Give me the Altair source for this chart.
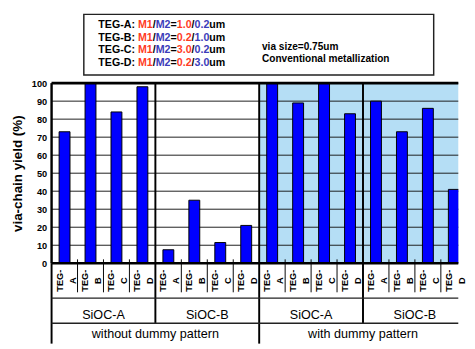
import altair as alt
import pandas as pd

# ---------------- data ----------------
teg = ["A", "B", "C", "D"]
materials = ["SiOC-A", "SiOC-B", "SiOC-A", "SiOC-B"]
conditions = ["without dummy pattern", "with dummy pattern"]
yield_without_sioc_a = [73, 100, 84, 98]
yield_without_sioc_b = [7.5, 35, 11.5, 21]
yield_with_sioc_a = [100, 89, 100, 83]
yield_with_sioc_b = [90, 73, 86, 41]
y_ticks = [0, 10, 20, 30, 40, 50, 60, 70, 80, 90, 100]
m1_widths = ["1.0", "0.2", "3.0", "0.2"]
m2_widths = ["0.2", "1.0", "0.2", "3.0"]
note_lines = ["via size=0.75um", "Conventional metallization"]

groups = [yield_without_sioc_a, yield_without_sioc_b, yield_with_sioc_a, yield_with_sioc_b]

# ---------------- layout / style ----------------
FONT = "Liberation Sans"
W = 420
SLOT = 26.8
XMAX = W / SLOT
H_HEAD, H_PLOT, H_TAB = 72, 186, 83
ROW1, ROW2 = 36, 62
BAR_L, BAR_R = 0.29, 0.71
RED, BLUE, BLACK = "#ff3b1f", "#3c3cba", "#000000"

BOLD_W = {' ': 278, '-': 333, '.': 278, '/': 278, ':': 333, '=': 584,
          'A': 722, 'B': 722, 'C': 722, 'D': 722, 'E': 667, 'G': 778,
          'M': 833, 'T': 611, 'u': 611, 'm': 889}
for d in "0123456789":
    BOLD_W[d] = 556


def text_w(s, size):
    return sum(BOLD_W.get(c, 556) for c in s) * size / 1000.0


# ---------------- header (legend box) ----------------
LEG_SIZE = 11
leg_x0, leg_baselines = 48.3, [14.7, 28.2, 41.3, 54.7]
segs = []
for i, t in enumerate(teg):
    parts = [(f"TEG-{t}: ", BLACK), ("M1", RED), ("/", BLACK), ("M2", BLUE),
             ("=", BLACK), (m1_widths[i], RED), ("/", BLACK), (m2_widths[i], BLUE),
             ("um", BLACK)]
    x = leg_x0
    for s, c in parts:
        segs.append({"x": x, "y": leg_baselines[i], "t": s, "c": c})
        x += text_w(s, LEG_SIZE)
segs_df = pd.DataFrame(segs)
notes_df = pd.DataFrame({"x": [217.3, 217.3], "y": [37.8, 50.0], "t": note_lines})
box_df = pd.DataFrame({"x0": [33.3], "x1": [394.6], "y0": [1.0], "y1": [63.7]})

hx = alt.Scale(domain=[0, W], nice=False, zero=False)
hy = alt.Scale(domain=[0, H_HEAD], reverse=True, nice=False, zero=False)

box = alt.Chart(box_df).mark_rect(fill="white", stroke="#222", strokeWidth=1.5).encode(
    x=alt.X("x0:Q", scale=hx, axis=None), x2="x1",
    y=alt.Y("y0:Q", scale=hy, axis=None), y2="y1")
leg_text = alt.Chart(segs_df).mark_text(
    align="left", baseline="alphabetic", font=FONT, fontSize=LEG_SIZE, fontWeight="bold"
).encode(x=alt.X("x:Q", scale=hx, axis=None), y=alt.Y("y:Q", scale=hy, axis=None),
         text="t:N", color=alt.Color("c:N", scale=None))
note_text = alt.Chart(notes_df).mark_text(
    align="left", baseline="alphabetic", font=FONT, fontSize=10.4, fontWeight="bold", color="black"
).encode(x=alt.X("x:Q", scale=hx, axis=None), y=alt.Y("y:Q", scale=hy, axis=None), text="t:N")
head = alt.layer(box, leg_text, note_text).properties(width=W, height=H_HEAD)

# ---------------- main bar plot ----------------
xs = alt.Scale(domain=[0, XMAX], nice=False, zero=False)
ys = alt.Scale(domain=[0, 100], nice=False, zero=False)
yax = alt.Axis(values=y_ticks, grid=False, ticks=False, domain=False,
               labelFont=FONT, labelFontSize=9.5, labelFontWeight="bold", labelColor="black",
               labelPadding=5, title="via-chain yield (%)", titleFont=FONT, titleFontSize=13.8,
               titleFontWeight="bold", titleColor="black", titleAngle=270, titleX=-35,
               titleY=H_PLOT / 2, titleAlign="center", titleBaseline="middle")

rows = []
for g, vals in enumerate(groups):
    for i, v in enumerate(vals):
        slot = g * 4 + i
        rows.append({"x0": slot + BAR_L, "x1": slot + BAR_R, "value": v, "zero": 0})
bars_df = pd.DataFrame(rows)

bg_df = pd.DataFrame({"x0": [8], "x1": [16], "y0": [0], "y1": [100]})
grid_df = pd.DataFrame({"v": y_ticks, "x0": 0, "x1": XMAX})
sep_df = pd.DataFrame({"x": [4, 8, 12], "y0": 0, "y1": 100})
slot_bounds = [s for s in range(1, 16) if s % 4 != 0]
tick_df = pd.DataFrame({"x": slot_bounds})
top_df = pd.DataFrame({"v": [100], "x0": 0, "x1": XMAX})
bot_df = pd.DataFrame({"v": [0], "x0": 0, "x1": XMAX})
left_df = pd.DataFrame({"x": [0], "y0": 0, "y1": 100})

bg = alt.Chart(bg_df).mark_rect(fill="#b5def5", clip=True).encode(
    x=alt.X("x0:Q", scale=xs, axis=None), x2="x1",
    y=alt.Y("y0:Q", scale=ys, axis=yax), y2="y1")
grid = alt.Chart(grid_df).mark_rule(color="#1a1a1a", strokeWidth=1).encode(
    x=alt.X("x0:Q", scale=xs, axis=None), x2="x1",
    y=alt.Y("v:Q", scale=ys, axis=yax))
seps = alt.Chart(sep_df).mark_rule(color="black", strokeWidth=2).encode(
    x=alt.X("x:Q", scale=xs, axis=None),
    y=alt.Y("y0:Q", scale=ys, axis=yax), y2="y1")
bars = alt.Chart(bars_df).mark_rect(fill="#0000ff", stroke="black", strokeWidth=1, clip=True).encode(
    x=alt.X("x0:Q", scale=xs, axis=None), x2="x1",
    y=alt.Y("value:Q", scale=ys, axis=yax), y2="zero")
ticks = alt.Chart(tick_df).mark_rule(color="black", strokeWidth=1).encode(
    x=alt.X("x:Q", scale=xs, axis=None), y=alt.value(H_PLOT - 4), y2=alt.value(H_PLOT))
top = alt.Chart(top_df).mark_rule(color="black", strokeWidth=3).encode(
    x=alt.X("x0:Q", scale=xs, axis=None), x2="x1", y=alt.Y("v:Q", scale=ys, axis=yax))
bot = alt.Chart(bot_df).mark_rule(color="black", strokeWidth=2.5).encode(
    x=alt.X("x0:Q", scale=xs, axis=None), x2="x1", y=alt.Y("v:Q", scale=ys, axis=yax))
left = alt.Chart(left_df).mark_rule(color="black", strokeWidth=2.5).encode(
    x=alt.X("x:Q", scale=xs, axis=None), y=alt.Y("y0:Q", scale=ys, axis=yax), y2="y1")

main = alt.layer(bg, grid, seps, bars, ticks, top, bot, left).properties(width=W, height=H_PLOT)

# ---------------- category table ----------------
ty = alt.Scale(domain=[0, H_TAB], reverse=True, nice=False, zero=False)

thin_df = pd.DataFrame({"x": slot_bounds, "y0": 0, "y1": ROW1 - 6})
gsep_df = pd.DataFrame({"x": [4, 12], "y0": 0, "y1": ROW2})
full_df = pd.DataFrame({"x": [0, 8], "y0": 0, "y1": H_TAB})
hline_df = pd.DataFrame({"y": [ROW1, ROW2], "x0": 0, "x1": XMAX})
teg_pre_df = pd.DataFrame({"x": [g * 4 + i + 0.31 for g in range(4) for i in range(4)],
                           "y": 18, "t": "TEG-"})
teg_let_df = pd.DataFrame({"x": [g * 4 + i + 0.81 for g in range(4) for i in range(4)],
                           "y": 18, "t": [t for g in range(4) for t in teg]})
mat_df = pd.DataFrame({"x": [g * 4 + 2 for g in range(4)], "y": 58, "t": materials})
cond_df = pd.DataFrame({"x": [4, 12], "y": 77.5, "t": conditions})

thin = alt.Chart(thin_df).mark_rule(color="black", strokeWidth=1).encode(
    x=alt.X("x:Q", scale=xs, axis=None), y=alt.Y("y0:Q", scale=ty, axis=None), y2="y1")
gsep = alt.Chart(gsep_df).mark_rule(color="black", strokeWidth=2).encode(
    x=alt.X("x:Q", scale=xs, axis=None), y=alt.Y("y0:Q", scale=ty, axis=None), y2="y1")
full = alt.Chart(full_df).mark_rule(color="black", strokeWidth=2).encode(
    x=alt.X("x:Q", scale=xs, axis=None), y=alt.Y("y0:Q", scale=ty, axis=None), y2="y1")
hline = alt.Chart(hline_df).mark_rule(color="#222", strokeWidth=1.5).encode(
    x=alt.X("x0:Q", scale=xs, axis=None), x2="x1", y=alt.Y("y:Q", scale=ty, axis=None))
teg_style = dict(angle=270, align="center", baseline="middle", font=FONT, fontSize=9.5,
                 fontWeight="bold", color="black")
teg_pre = alt.Chart(teg_pre_df).mark_text(**teg_style).encode(
    x=alt.X("x:Q", scale=xs, axis=None), y=alt.Y("y:Q", scale=ty, axis=None), text="t:N")
teg_let = alt.Chart(teg_let_df).mark_text(**teg_style).encode(
    x=alt.X("x:Q", scale=xs, axis=None), y=alt.Y("y:Q", scale=ty, axis=None), text="t:N")
mat_t = alt.Chart(mat_df).mark_text(
    align="center", baseline="alphabetic", font=FONT, fontSize=13, color="black"
).encode(x=alt.X("x:Q", scale=xs, axis=None), y=alt.Y("y:Q", scale=ty, axis=None), text="t:N")
cond_t = alt.Chart(cond_df).mark_text(
    align="center", baseline="alphabetic", font=FONT, fontSize=13, color="black"
).encode(x=alt.X("x:Q", scale=xs, axis=None), y=alt.Y("y:Q", scale=ty, axis=None), text="t:N")

table = alt.layer(thin, gsep, full, hline, teg_pre, teg_let, mat_t, cond_t).properties(
    width=W, height=H_TAB)

chart = alt.vconcat(head, main, table, spacing=0, bounds="flush").resolve_scale(
    x="independent", y="independent"
).properties(
    padding={"left": 3, "top": 0, "right": 0, "bottom": 0}, background="white"
).configure_view(stroke=None)

chart.save("out.html", embed_options={"renderer": "svg", "actions": False})
